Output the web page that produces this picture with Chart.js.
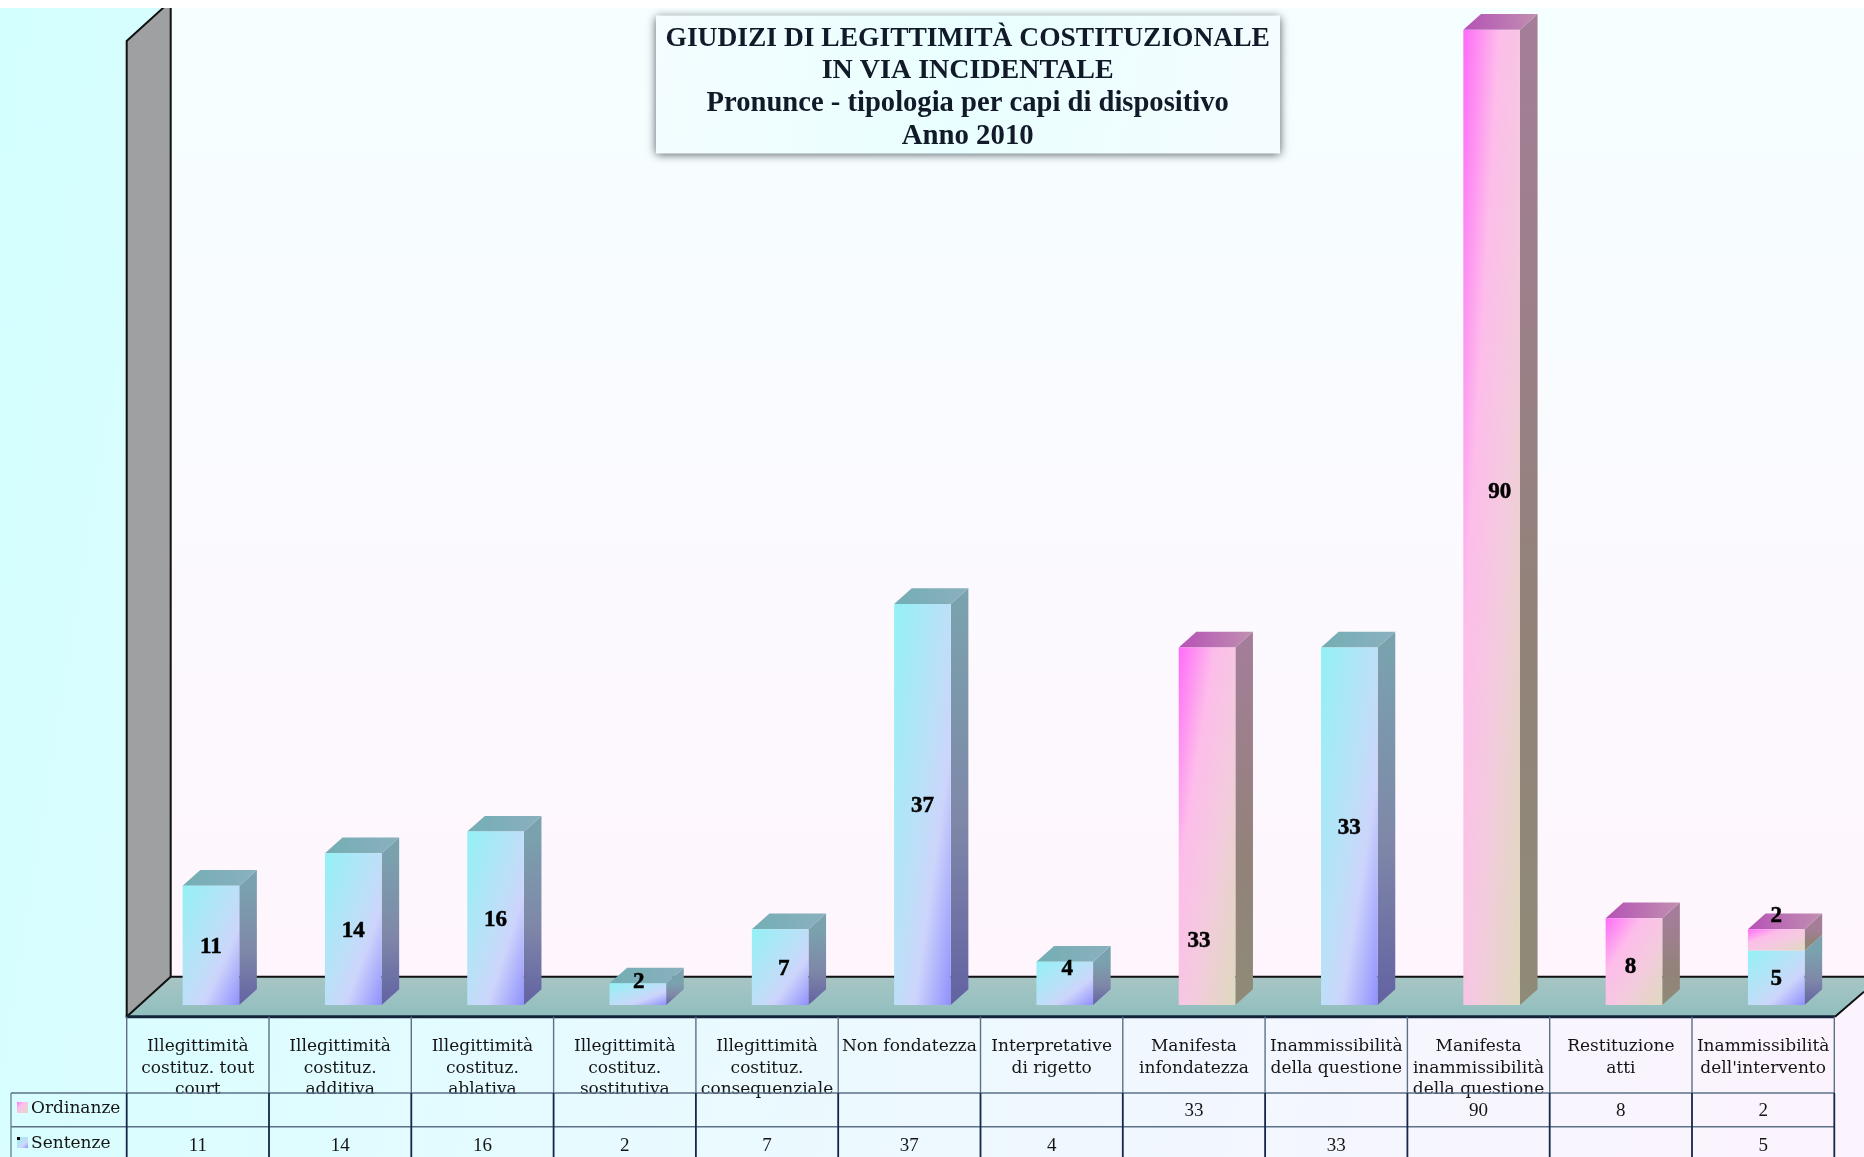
<!DOCTYPE html>
<html lang="it"><head><meta charset="utf-8">
<style>html,body{margin:0;padding:0;background:#fff}canvas{display:block}</style>
<script src="https://cdn.jsdelivr.net/npm/chart.js@4/dist/chart.umd.min.js"></script>
</head><body><canvas id="c" width="1864" height="1157"></canvas>
<script>
const categories = [
  ["Illegittimità","costituz. tout","court"],
  ["Illegittimità","costituz.","additiva"],
  ["Illegittimità","costituz.","ablativa"],
  ["Illegittimità","costituz.","sostitutiva"],
  ["Illegittimità","costituz.","consequenziale"],
  ["Non fondatezza"],
  ["Interpretative","di rigetto"],
  ["Manifesta","infondatezza"],
  ["Inammissibilità","della questione"],
  ["Manifesta","inammissibilità","della questione"],
  ["Restituzione","atti"],
  ["Inammissibilità","dell'intervento"]
];
const sentenze  = [11,14,16,2,7,37,4,null,33,null,null,5];
const ordinanze = [null,null,null,null,null,null,null,33,null,90,8,2];
const titleLines = ["GIUDIZI DI LEGITTIMITÀ COSTITUZIONALE","IN VIA INCIDENTALE","Pronunce - tipologia per capi di dispositivo","Anno 2010"];
// hand-placed data label shifts in the reference: "dataset:index" -> [dx, dy]
const labelNudge = {"0:3":[1,-14],"0:4":[3.5,0],"0:6":[2.5,-16],"1:7":[-8,113],"1:9":[8,-27],"1:10":[-3.5,4],"1:11":[0,-25]};

const SERIF = '"DejaVu Serif"', LIB = '"Liberation Serif"';
const DX = 17.6, DY = 15.7, COL = 142.3, TBL_L = 126.7, TBL_R = 1834.3, FLOOR_F = 1016.7, FLOOR_B = 976.7;
const ROW1 = 1093, ROW2 = 1126.7, LBL_SHIFT = 13.1;

const BLUE = [[0,'#93F1F5'],[.5,'#BDDFF8'],[.68,'#CDD4FB'],[1,'#9090FC']];
const PINK = [[0,'#FF6CF8'],[.32,'#FDBDEA'],[.6,'#F4CADF'],[1,'#DFD9BE']];

function scaledGrad(ctx,x,y,w,h,stops){
  const k = 2*w*h/(h*h+w*w);
  const g = ctx.createLinearGradient(x,y,x+h*k,y+w*k);
  stops.forEach(s=>g.addColorStop(s[0],s[1]));
  return g;
}
function barFill(stops,otherValues,isTop){
  return c=>{
    const ch=c.chart, a=ch.chartArea;
    if(!a||c.raw==null) return stops[1][1];
    const xs=ch.scales.x, ys=ch.scales.y;
    const w=xs.width/categories.length*0.398, cx=xs.getPixelForValue(c.dataIndex);
    const below=isTop?(otherValues[c.dataIndex]||0):0;
    const yTop=ys.getPixelForValue(below+c.raw), yBot=ys.getPixelForValue(below);
    return scaledGrad(ch.ctx,cx-w/2,yTop,w,yBot-yTop,stops);
  };
}
const scene = {
  id:'scene',
  beforeDraw(ch){
    const c=ch.ctx;
    c.save();
    let g=c.createLinearGradient(0,0,1864,300);
    g.addColorStop(0,'#D3FFFF'); g.addColorStop(.45,'#E9FAFF'); g.addColorStop(1,'#FBF4FE');
    c.fillStyle=g; c.fillRect(0,8,1864,1149);
    c.fillStyle='#fff'; c.fillRect(0,0,1864,8);
    c.beginPath(); c.rect(0,8,1864,1149); c.clip();
    g=c.createLinearGradient(0,8,0,FLOOR_B);
    g.addColorStop(0,'#F5FFFF'); g.addColorStop(.5,'#FAFAFF'); g.addColorStop(1,'#FFF5FD');
    c.fillStyle=g; c.fillRect(170.7,0,1700,FLOOR_B);
    c.fillStyle='#9EA0A2';
    c.beginPath(); c.moveTo(TBL_L,41); c.lineTo(170.7,1); c.lineTo(170.7,FLOOR_B); c.lineTo(TBL_L,FLOOR_F); c.closePath(); c.fill();
    g=c.createLinearGradient(0,FLOOR_B,0,FLOOR_F);
    g.addColorStop(0,'#A8C5C5'); g.addColorStop(1,'#90BFBE');
    c.fillStyle=g;
    c.beginPath(); c.moveTo(TBL_L,FLOOR_F); c.lineTo(170.7,FLOOR_B); c.lineTo(1864,FLOOR_B); c.lineTo(1864,991.7); c.lineTo(1835,FLOOR_F); c.closePath(); c.fill();
    c.strokeStyle='#111'; c.lineWidth=2;
    c.beginPath();
    c.moveTo(TBL_L,FLOOR_F); c.lineTo(TBL_L,41); c.lineTo(170.7,1);
    c.moveTo(170.7,0); c.lineTo(170.7,FLOOR_B); c.lineTo(1864,FLOOR_B);
    c.moveTo(170.7,FLOOR_B); c.lineTo(TBL_L,FLOOR_F);
    c.moveTo(1835,FLOOR_F); c.lineTo(1864,991.7);
    c.stroke();
    c.strokeStyle='#12233A'; c.lineWidth=3;
    c.beginPath(); c.moveTo(TBL_L-1,FLOOR_F); c.lineTo(1835,FLOOR_F); c.stroke();
    c.restore();
  },
  beforeDatasetsDraw(ch){
    const c=ch.ctx;
    c.save();
    for(let i=0;i<categories.length;i++){
      const parts=[];
      ch.data.datasets.forEach((d,di)=>{
        const el=ch.getDatasetMeta(di).data[i];
        if(d.data[i]!=null&&el) parts.push({el,di});
      });
      parts.forEach((p,n)=>{
        const {x,y,base,width}=p.el, r=x+width/2, l=x-width/2, pink=p.di===1;
        const side=c.createLinearGradient(0,y,0,base);
        if(pink){side.addColorStop(0,'#A47E98');side.addColorStop(.6,'#928279');side.addColorStop(1,'#8F8B78');}
        else{side.addColorStop(0,'#7AA2AE');side.addColorStop(.55,'#7F87A8');side.addColorStop(1,'#6262A2');}
        c.fillStyle=side;
        c.beginPath(); c.moveTo(r,y); c.lineTo(r+DX,y-DY); c.lineTo(r+DX,base-DY); c.lineTo(r,base); c.closePath(); c.fill();
        if(n===parts.length-1){
          const top=c.createLinearGradient(l,0,r+DX,0);
          if(pink){top.addColorStop(0,'#B652B6');top.addColorStop(1,'#C090B0');}
          else{top.addColorStop(0,'#74AEB4');top.addColorStop(1,'#8AB0BE');}
          c.fillStyle=top;
          c.beginPath(); c.moveTo(l,y); c.lineTo(l+DX,y-DY); c.lineTo(r+DX,y-DY); c.lineTo(r,y); c.closePath(); c.fill();
        }
      });
    }
    c.restore();
  },
  afterDatasetsDraw(ch){
    const c=ch.ctx;
    c.save();
    c.font='bold 23px '+LIB; c.fillStyle='#000'; c.strokeStyle='#000'; c.lineWidth=.5; c.textAlign='center'; c.textBaseline='middle';
    ch.data.datasets.forEach((d,di)=>{
      ch.getDatasetMeta(di).data.forEach((el,i)=>{
        if(d.data[i]==null) return;
        const nudge=labelNudge[di+':'+i]||[0,0];
        const tx=el.x+nudge[0], ty=(el.y+el.base)/2+nudge[1]+1.5;
        c.fillText(String(d.data[i]),tx,ty);
        c.strokeText(String(d.data[i]),tx,ty);
      });
    });
    c.restore();
  },
  afterDraw(ch){
    const c=ch.ctx, xs=ch.scales.x;
    c.save();
    c.strokeStyle='#5C7186'; c.lineWidth=1.4;
    c.beginPath();
    c.moveTo(11,ROW1); c.lineTo(TBL_R,ROW1);
    c.moveTo(11,ROW2); c.lineTo(TBL_R,ROW2);
    for(let i=0;i<=categories.length;i++){const x=TBL_L+i*COL; c.moveTo(x,FLOOR_F); c.lineTo(x,ROW1);}
    c.stroke();
    c.strokeStyle='#14274A'; c.lineWidth=1.8;
    c.beginPath();
    for(let i=0;i<=categories.length;i++){const x=TBL_L+i*COL; c.moveTo(x,ROW1); c.lineTo(x,1157);}
    c.stroke();
    c.strokeStyle='#5C7186'; c.lineWidth=1.2;
    c.beginPath(); c.moveTo(11,ROW1); c.lineTo(11,1157); c.stroke();
    const rows=[[1,1108,PINK],[0,1143,BLUE]];
    c.textBaseline='middle';
    rows.forEach(([di,yc,stops])=>{
      const g=c.createLinearGradient(17,yc-6,28,yc+5);
      stops.forEach(s=>g.addColorStop(s[0],s[1]));
      c.fillStyle=g; c.fillRect(17,yc-6,11,11);
      if(di===0){c.fillStyle='#000'; c.fillRect(17,yc-6,3,3);}
      c.fillStyle='#151515'; c.textAlign='left'; c.font='17px '+SERIF;
      c.fillText(ch.data.datasets[di].label,31,yc+1);
      c.font='19px '+LIB; c.textAlign='center';
      ch.data.datasets[di].data.forEach((v,i)=>{
        if(v!=null) c.fillText(String(v),TBL_L+(i+.5)*COL,yc+3);
      });
    });
    c.save();
    c.shadowColor='rgba(40,50,60,.8)'; c.shadowBlur=9; c.shadowOffsetX=0; c.shadowOffsetY=1;
    const g=c.createLinearGradient(656,15,1280,153);
    g.addColorStop(0,'#F4FDFF'); g.addColorStop(.5,'#E9FFFF'); g.addColorStop(1,'#F5FCFF');
    c.fillStyle=g; c.fillRect(656,15.5,624,138);
    c.restore();
    c.fillStyle='#121A2A'; c.textAlign='center';
    const fonts=['bold 27.5px '+LIB,'bold 28px '+LIB,'bold 28.6px '+LIB,'bold 28.8px '+LIB], ys=[39,71,104,136.5];
    titleLines.forEach((t,i)=>{c.font=fonts[i]; c.fillText(t,967.7,ys[i]);});
    c.restore();
  }
};
new Chart(document.getElementById('c'),{
  type:'bar',
  data:{labels:categories,datasets:[
    {label:'Sentenze',data:sentenze,backgroundColor:barFill(BLUE,ordinanze,false),borderWidth:0,barPercentage:.398,categoryPercentage:1},
    {label:'Ordinanze',data:ordinanze,backgroundColor:barFill(PINK,sentenze,true),borderWidth:0,barPercentage:.398,categoryPercentage:1}
  ]},
  options:{
    responsive:false,animation:false,
    layout:{padding:{left:TBL_L+LBL_SHIFT,right:1864-TBL_R-LBL_SHIFT,top:29.7,bottom:0}},
    plugins:{legend:{display:false},title:{display:false},tooltip:{enabled:false}},
    scales:{
      x:{stacked:true,grid:{display:false,drawTicks:false},border:{display:false},
        afterFit(s){s.height=152;s.paddingLeft=0;s.paddingRight=0;s.getPadding=()=>({left:0,right:0,top:0,bottom:0});},
        ticks:{autoSkip:false,maxRotation:0,minRotation:0,padding:31,labelOffset:-LBL_SHIFT,color:'#151515',
          font:{family:SERIF,size:17,lineHeight:1.27}}},
      y:{stacked:true,display:false,min:0,max:90}
    }
  },
  plugins:[scene]
});
</script></body></html>
